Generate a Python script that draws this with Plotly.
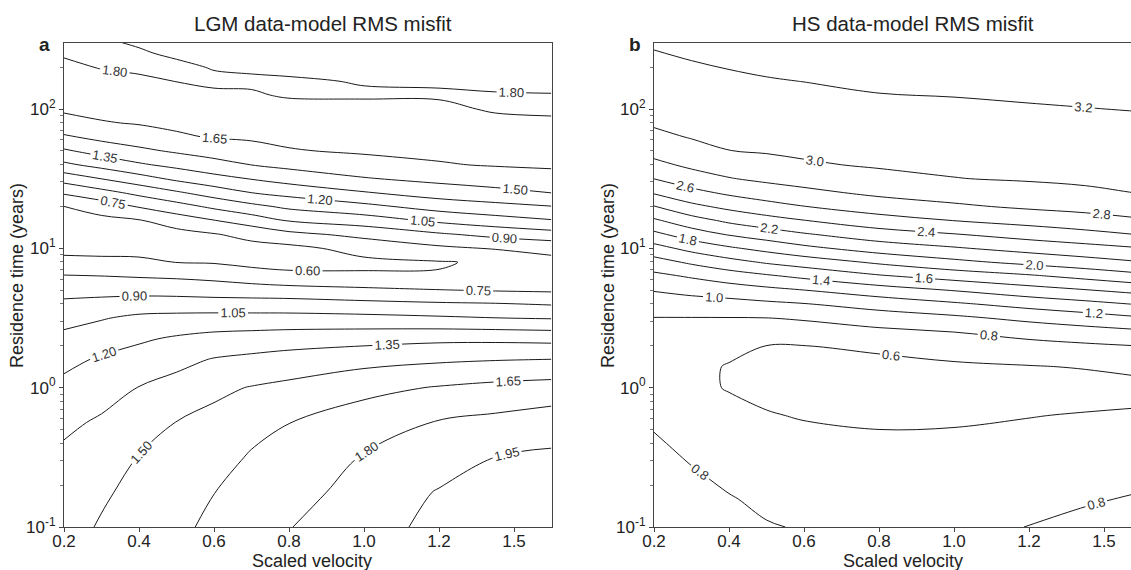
import numpy as np
import plotly.graph_objects as go

FONT = "Liberation Sans, Arial, sans-serif"

# ---- Panel a: LGM data-model RMS misfit -------------------------------------
lgm_velocity = [0.2, 0.3, 0.4, 0.5, 0.6, 0.7, 0.8, 1.0, 1.2, 1.35, 1.5]
# residence time grid, log10(years)
lgm_log_residence = [-1.0, -0.75, -0.5, -0.25, 0.0, 0.2, 0.35, 0.5, 0.6, 0.7,
                     0.8, 0.9, 1.0, 1.1, 1.2, 1.3, 1.4, 1.5, 1.6, 1.7,
                     1.8, 1.9, 2.0, 2.1, 2.2, 2.3, 2.4, 2.48]
# misfit along residence time, one list per scaled velocity
lgm_v020 = [1.46, 1.42, 1.38, 1.32, 1.24, 1.16, 1.09, 1.00, 0.93, 0.85, 0.76, 0.64, 0.56, 0.50,
            0.54, 0.598, 0.77, 0.96, 1.17, 1.33, 1.48, 1.60, 1.67, 1.71, 1.745, 1.78, 1.81, 1.83]
lgm_v030 = [1.51, 1.485, 1.43, 1.37, 1.29, 1.22, 1.13, 1.04, 0.95, 0.85, 0.752, 0.63, 0.56, 0.50,
            0.56, 0.67, 0.85, 1.052, 1.25, 1.41, 1.54, 1.64, 1.69, 1.73, 1.77, 1.805, 1.83, 1.81]
lgm_v040 = [1.56, 1.53, 1.505, 1.43, 1.354, 1.26, 1.18, 1.08, 0.97, 0.85, 0.74, 0.63, 0.55, 0.52,
            0.59, 0.76, 0.94, 1.14, 1.33, 1.47, 1.58, 1.66, 1.70, 1.74, 1.78, 1.82, 1.81, 1.79]
lgm_v050 = [1.62, 1.58, 1.54, 1.503, 1.40, 1.31, 1.22, 1.09, 0.975, 0.84, 0.73, 0.598, 0.52, 0.55,
            0.67, 0.84, 1.03, 1.23, 1.39, 1.52, 1.63, 1.68, 1.72, 1.76, 1.802, 1.82, 1.785, 1.76]
lgm_v060 = [1.68, 1.648, 1.59, 1.54, 1.47, 1.36, 1.25, 1.10, 0.965, 0.83, 0.71, 0.59, 0.53, 0.59,
            0.745, 0.93, 1.12, 1.30, 1.45, 1.56, 1.66, 1.70, 1.74, 1.78, 1.82, 1.794, 1.764, 1.74]
lgm_v070 = [1.735, 1.70, 1.665, 1.60, 1.507, 1.385, 1.265, 1.10, 0.963, 0.82, 0.67, 0.56, 0.55, 0.645,
            0.82, 1.01, 1.201, 1.357, 1.502, 1.60, 1.67, 1.71, 1.75, 1.79, 1.815, 1.786, 1.76, 1.735]
lgm_v080 = [1.795, 1.75, 1.70, 1.648, 1.535, 1.41, 1.28, 1.10, 0.96, 0.81, 0.63, 0.56, 0.56, 0.71,
            0.91, 1.08, 1.25, 1.41, 1.54, 1.64, 1.685, 1.725, 1.765, 1.81, 1.81, 1.78, 1.75, 1.73]
lgm_v100 = [1.89, 1.85, 1.81, 1.725, 1.61, 1.45, 1.30, 1.09, 0.94, 0.78, 0.62, 0.57, 0.65, 0.79,
            0.975, 1.16, 1.34, 1.49, 1.59, 1.67, 1.70, 1.74, 1.775, 1.81, 1.795, 1.77, 1.74, 1.72]
lgm_v120 = [1.99, 1.96, 1.875, 1.81, 1.66, 1.48, 1.32, 1.07, 0.92, 0.755, 0.61, 0.59, 0.72, 0.88,
            1.08, 1.26, 1.42, 1.54, 1.64, 1.68, 1.71, 1.75, 1.78, 1.81, 1.79, 1.76, 1.73, 1.71]
lgm_v135 = [2.03, 1.99, 1.951, 1.84, 1.69, 1.495, 1.32, 1.052, 0.91, 0.74, 0.66, 0.62, 0.76, 0.94,
            1.14, 1.305, 1.46, 1.57, 1.66, 1.70, 1.74, 1.775, 1.81, 1.806, 1.78, 1.75, 1.72, 1.70]
lgm_v150 = [2.07, 2.02, 1.975, 1.88, 1.71, 1.505, 1.31, 1.04, 0.89, 0.73, 0.665, 0.71, 0.79, 0.99,
            1.19, 1.345, 1.503, 1.60, 1.67, 1.71, 1.75, 1.79, 1.81, 1.803, 1.78, 1.75, 1.72, 1.70]

# ---- Panel b: HS data-model RMS misfit --------------------------------------
hs_velocity = [0.2, 0.3, 0.4, 0.5, 0.6, 0.8, 1.0, 1.2, 1.35, 1.5]
hs_log_residence = [-1.0, -0.8, -0.6, -0.4, -0.2, 0.0, 0.15, 0.3, 0.4, 0.5,
                    0.6, 0.7, 0.8, 0.9, 1.0, 1.1, 1.2, 1.3, 1.4, 1.5,
                    1.6, 1.7, 1.8, 1.9, 2.0, 2.2, 2.48]
hs_v020 = [0.93, 0.89, 0.86, 0.82, 0.77, 0.71, 0.69, 0.74, 0.77, 0.795, 0.90, 1.01, 1.15, 1.32,
           1.525, 1.75, 1.97, 2.19, 2.42, 2.602, 2.75, 2.865, 2.96, 3.02, 3.055, 3.12, 3.22]
hs_v030 = [0.88, 0.85, 0.81, 0.76, 0.70, 0.64, 0.66, 0.72, 0.76, 0.795, 0.91, 1.06, 1.22, 1.43,
           1.66, 1.90, 2.12, 2.35, 2.545, 2.71, 2.84, 2.94, 3.01, 3.05, 3.08, 3.15, 3.245]
hs_v040 = [0.84, 0.81, 0.76, 0.70, 0.65, 0.59, 0.585, 0.66, 0.73, 0.795, 0.93, 1.10, 1.30, 1.53,
           1.77, 2.015, 2.24, 2.45, 2.635, 2.79, 2.895, 2.998, 3.035, 3.07, 3.10, 3.17, 3.27]
hs_v050 = [0.81, 0.77, 0.715, 0.665, 0.61, 0.56, 0.56, 0.598, 0.70, 0.798, 0.96, 1.15, 1.37, 1.62,
           1.86, 2.10, 2.325, 2.53, 2.70, 2.84, 2.94, 3.015, 3.05, 3.08, 3.12, 3.19, 3.28]
hs_v060 = [0.79, 0.74, 0.69, 0.645, 0.59, 0.53, 0.555, 0.598, 0.71, 0.82, 0.99, 1.198, 1.44, 1.69,
           1.95, 2.18, 2.395, 2.595, 2.755, 2.875, 2.98, 3.03, 3.06, 3.10, 3.13, 3.202, 3.30]
hs_v080 = [0.70, 0.67, 0.645, 0.615, 0.585, 0.50, 0.56, 0.625, 0.755, 0.90, 1.08, 1.31, 1.575, 1.83,
           2.09, 2.31, 2.52, 2.70, 2.84, 2.945, 3.02, 3.05, 3.09, 3.12, 3.16, 3.23, 3.32]
hs_v100 = [0.73, 0.69, 0.66, 0.62, 0.585, 0.50, 0.57, 0.69, 0.801, 0.96, 1.17, 1.41, 1.68, 1.95,
           2.18, 2.39, 2.603, 2.77, 2.89, 2.996, 3.03, 3.07, 3.10, 3.14, 3.17, 3.24, 3.33]
hs_v120 = [0.805, 0.755, 0.70, 0.65, 0.595, 0.53, 0.59, 0.74, 0.87, 1.05, 1.27, 1.52, 1.77, 2.05,
           2.27, 2.48, 2.67, 2.83, 2.94, 3.015, 3.05, 3.08, 3.12, 3.15, 3.185, 3.255, 3.35]
hs_v135 = [0.84, 0.785, 0.73, 0.67, 0.61, 0.53, 0.61, 0.77, 0.92, 1.11, 1.34, 1.59, 1.855, 2.12,
           2.33, 2.54, 2.725, 2.86, 2.97, 3.03, 3.06, 3.09, 3.13, 3.16, 3.196, 3.265, 3.36]
hs_v150 = [0.87, 0.815, 0.755, 0.69, 0.62, 0.55, 0.645, 0.801, 0.965, 1.18, 1.415, 1.665, 1.945, 2.19,
           2.39, 2.61, 2.78, 2.90, 3.005, 3.04, 3.07, 3.105, 3.14, 3.17, 3.207, 3.275, 3.37]

# Tick labels
velocity_tickvals = [0.2, 0.4, 0.6, 0.8, 1.0, 1.2, 1.4]
velocity_ticktext = ["0.2", "0.4", "0.6", "0.8", "1.0", "1.2", "1.5"]
residence_tickvals = [0.1, 1, 10, 100]
residence_ticktext = ["10<sup>-1</sup>", "10<sup>0</sup>", "10<sup>1</sup>", "10<sup>2</sup>"]
residence_minor = [m * 10.0 ** e for e in (-1, 0, 1) for m in range(2, 10)] + [200, 300]

LINE = "#1a1a1a"
AXIS = "#444444"
TEXT = "#222222"


def misfit_contour(vel, columns, log_res, start, end, size, fmt, xa, ya):
    return go.Contour(
        x=vel,
        y=10.0 ** np.asarray(log_res),
        z=np.column_stack(columns),
        autocontour=False,
        contours=dict(start=start, end=end, size=size, coloring="lines",
                      showlabels=True, labelformat=fmt,
                      labelfont=dict(family=FONT, size=13, color="#333333")),
        colorscale=[[0, LINE], [1, LINE]],
        showscale=False,
        line=dict(width=1, smoothing=1),
        hoverinfo="skip",
        xaxis=xa, yaxis=ya,
    )


fig = go.Figure()
fig.add_trace(misfit_contour(
    lgm_velocity,
    [lgm_v020, lgm_v030, lgm_v040, lgm_v050, lgm_v060, lgm_v070,
     lgm_v080, lgm_v100, lgm_v120, lgm_v135, lgm_v150],
    lgm_log_residence, 0.60, 1.96, 0.15, ".2f", "x", "y"))
fig.add_trace(misfit_contour(
    hs_velocity,
    [hs_v020, hs_v030, hs_v040, hs_v050, hs_v060,
     hs_v080, hs_v100, hs_v120, hs_v135, hs_v150],
    hs_log_residence, 0.6, 3.21, 0.2, ".1f", "x2", "y2"))

W, H = 1131, 570
ML, MR, MT, MB = 64, 0, 43, 43
PW, PH = W - ML - MR, H - MT - MB


def px(x):
    return (x - ML) / PW


def py(y):
    return (H - MB - y) / PH


x_common = dict(
    tickvals=velocity_tickvals, ticktext=velocity_ticktext,
    ticks="outside", ticklen=4, tickwidth=1, tickcolor=AXIS,
    tickfont=dict(family=FONT, size=17, color=TEXT),
    ticklabelstandoff=-6,
    showline=True, linecolor=AXIS, linewidth=1.2, mirror=True,
    showgrid=False, zeroline=False,
)
y_common = dict(
    type="log", range=[-1, 2.474], domain=[0, 1],
    tickvals=residence_tickvals, ticktext=residence_ticktext,
    ticks="outside", ticklen=4, tickwidth=1, tickcolor=AXIS,
    tickfont=dict(family=FONT, size=17, color=TEXT),
    minor=dict(tickvals=residence_minor, ticks="outside", ticklen=2.5,
               tickwidth=1, tickcolor="#777777", showgrid=False),
    showline=True, linecolor=AXIS, linewidth=1.2,
    showgrid=False, zeroline=False,
)

fig.update_layout(
    width=W, height=H,
    margin=dict(l=ML, r=MR, t=MT, b=MB, pad=0),
    paper_bgcolor="white", plot_bgcolor="white",
    showlegend=False,
    font=dict(family=FONT, color=TEXT),
    xaxis=dict(domain=[0, 487.5 / PW], range=[0.2, 1.5], anchor="y", **x_common),
    yaxis=dict(anchor="x", mirror=True, **y_common),
    xaxis2=dict(domain=[(654 - ML) / PW, 1.0], range=[0.2, 1.472], anchor="y2", **x_common),
    yaxis2=dict(anchor="x2", mirror=False, **y_common),
)

annotations = [
    dict(text="LGM data-model RMS misfit", x=px(323), y=py(23.5), size=20.5),
    dict(text="HS data-model RMS misfit", x=px(913), y=py(23.5), size=20.5),
    dict(text="<b>a</b>", x=px(44), y=py(44), size=19),
    dict(text="<b>b</b>", x=px(635), y=py(44.5), size=19),
    dict(text="Scaled velocity", x=px(312), y=py(561), size=18),
    dict(text="Scaled velocity", x=px(903), y=py(561), size=18),
    dict(text="Residence time (years)", x=px(17), y=py(276), size=18, angle=-90),
    dict(text="Residence time (years)", x=px(608), y=py(276), size=18, angle=-90),
]
for a in annotations:
    fig.add_annotation(
        text=a["text"], x=a["x"], y=a["y"], xref="paper", yref="paper",
        xanchor="center", yanchor="middle", showarrow=False,
        textangle=a.get("angle", 0),
        font=dict(family=FONT, size=a["size"], color=TEXT),
    )

fig.write_html("out.html")
